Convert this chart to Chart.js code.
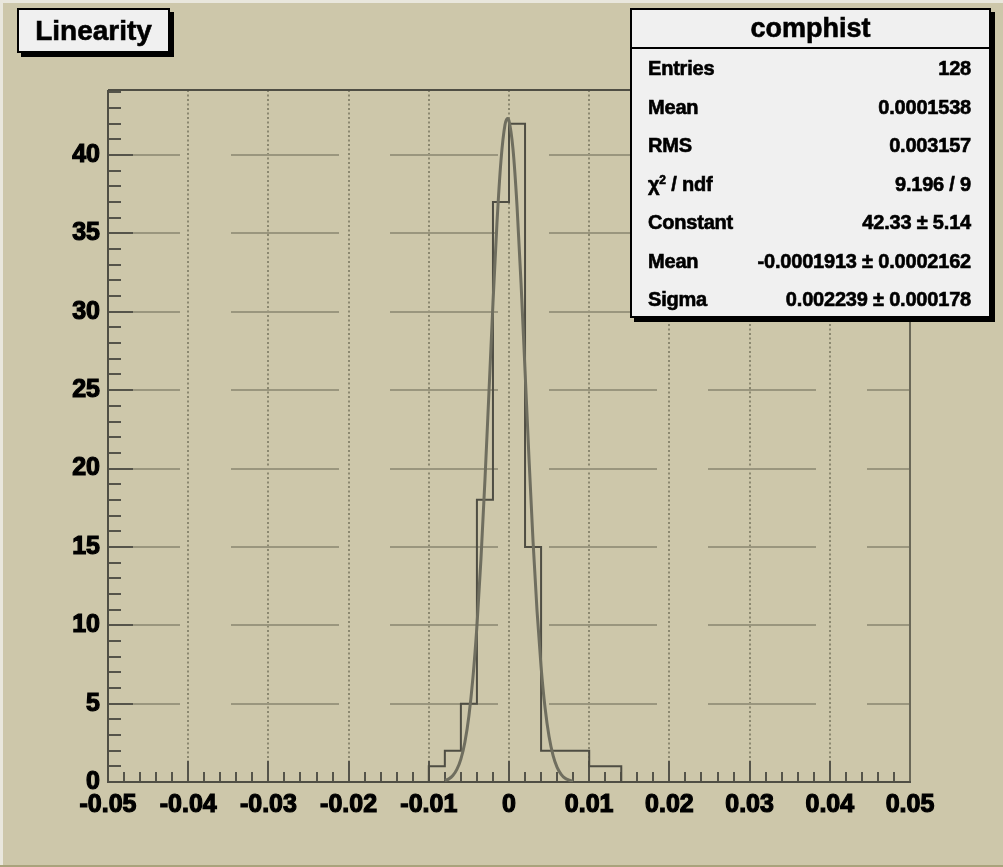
<!DOCTYPE html>
<html>
<head>
<meta charset="utf-8">
<script src="https://cdn.jsdelivr.net/npm/chart.js@4.4.1/dist/chart.umd.min.js"></script>
<style>
html,body{margin:0;padding:0;background:#cdc7aa;overflow:hidden;}
#wrap{position:relative;width:1003px;height:867px;background:#cdc7aa;}
#c{position:absolute;left:0;top:0;}
.edgeTop{position:absolute;left:0;top:0;width:1003px;height:3px;background:#e9e7dd;}
.edgeLeft{position:absolute;left:0;top:0;width:3px;height:867px;background:#e9e7dd;}
.edgeBottom{position:absolute;left:0;top:865px;width:1003px;height:2px;background:#a9a37c;}
.box{position:absolute;box-sizing:border-box;background:#f0f0f0;border:2px solid #000;box-shadow:4px 4px 0 #000;
     font-family:"Liberation Sans",Arial,sans-serif;font-weight:bold;color:#000;-webkit-text-stroke:0.6px #000;}
#title{left:17px;top:8px;width:153px;height:45px;font-size:28px;line-height:41px;text-align:center;}
#stats{left:630px;top:8px;width:361px;height:310px;}
#stats .head{box-sizing:border-box;height:39px;line-height:37px;text-align:center;font-size:27px;border-bottom:2px solid #000;}
#stats .row{display:flex;justify-content:space-between;height:38.5px;line-height:38.5px;font-size:20px;padding:0 18px 0 16px;letter-spacing:-0.2px;}
#stats sup{font-size:12px;line-height:0;vertical-align:7px;}
</style>
</head>
<body>
<div id="wrap">
  <canvas id="c" width="1003" height="867"></canvas>
  <div class="edgeTop"></div><div class="edgeLeft"></div><div class="edgeBottom"></div>
  <div class="box" id="title"></div>
  <div class="box" id="stats"></div>
</div>
<script>
// ---------- data ----------
const histTitle = 'Linearity';
const statsTitle = 'comphist';
const statsLabels = ['Entries', 'Mean', 'RMS', 'χ<sup>2</sup> / ndf', 'Constant', 'Mean', 'Sigma'];
const statsValues = ['128', '0.0001538', '0.003157', '9.196 / 9', '42.33 ± 5.14', '-0.0001913 ± 0.0002162', '0.002239 ± 0.000178'];

const binLowEdges = [-0.010, -0.008, -0.006, -0.004, -0.002, 0.000, 0.002, 0.004, 0.006, 0.008, 0.010, 0.012];
const binCounts   = [1, 2, 5, 18, 37, 42, 15, 2, 2, 2, 1, 1];
const binWidth = 0.002;

const fitX = [-0.008, -0.0075, -0.007, -0.0065, -0.006, -0.0055, -0.005, -0.0045, -0.004, -0.0035,
              -0.003, -0.0025, -0.002, -0.0015, -0.001, -0.0005, -0.0002, 0.0, 0.0005, 0.001,
              0.0015, 0.002, 0.0025, 0.003, 0.0035, 0.004, 0.0045, 0.005, 0.0055, 0.006,
              0.0065, 0.007, 0.0075, 0.008];
const fitY = [0.10, 0.20, 0.41, 0.80, 1.46, 2.54, 4.21, 6.64, 9.95, 14.19,
              19.26, 24.86, 30.53, 35.67, 39.65, 41.93, 42.33, 42.18, 40.37, 36.76,
              31.84, 26.24, 20.57, 15.34, 10.89, 7.35, 4.72, 2.88, 1.68, 0.93,
              0.49, 0.24, 0.12, 0.05];

const xTickLabels = ['-0.05', '-0.04', '-0.03', '-0.02', '-0.01', '0', '0.01', '0.02', '0.03', '0.04', '0.05'];
const yTickLabels = ['0', '5', '10', '15', '20', '25', '30', '35', '40'];
const xRange = [-0.05, 0.05];
const yRange = [0, 44.15];
const xMajorStep = 0.01, xMinorStep = 0.002;
const yMajorStep = 5, yMinorStep = 1;

// ---------- overlays (real text) ----------
document.getElementById('title').textContent = histTitle;
const st = document.getElementById('stats');
let html = '<div class="head">' + statsTitle + '</div>';
for (let i = 0; i < statsLabels.length; i++) {
  html += '<div class="row"><span>' + statsLabels[i] + '</span><span>' + statsValues[i] + '</span></div>';
}
st.innerHTML = html;

// ---------- histogram outline points built from bins ----------
const histPts = [{x: binLowEdges[0], y: 0}];
for (let i = 0; i < binCounts.length; i++) {
  histPts.push({x: binLowEdges[i], y: binCounts[i]});
  histPts.push({x: binLowEdges[i] + binWidth, y: binCounts[i]});
}
histPts.push({x: binLowEdges[binLowEdges.length - 1] + binWidth, y: 0});
const fitPts = fitX.map((v, i) => ({x: v, y: fitY[i]}));

// ---------- ROOT-like frame, grid and inside ticks ----------
const rootFrame = {
  id: 'rootFrame',
  beforeDatasetsDraw(chart) {
    const {ctx, chartArea: a, scales: {x, y}} = chart;
    const line = (x1, y1, x2, y2) => { ctx.beginPath(); ctx.moveTo(x1, y1); ctx.lineTo(x2, y2); ctx.stroke(); };
    ctx.save();
    // vertical dotted grid
    ctx.strokeStyle = '#8b8870'; ctx.lineWidth = 2; ctx.setLineDash([2, 2.5]);
    x.ticks.forEach(t => {
      const px = Math.round(x.getPixelForValue(t.value));
      if (px <= a.left + 2 || px >= a.right - 2) return;
      line(px, a.top, px, a.bottom);
    });
    // horizontal dashed grid
    ctx.strokeStyle = '#9a967e'; ctx.lineWidth = 2; ctx.setLineDash([108, 51]); ctx.lineDashOffset = 36;
    y.ticks.forEach(t => {
      if (t.value <= yRange[0]) return;
      const py = Math.round(y.getPixelForValue(t.value));
      line(a.left, py, a.right, py);
    });
    ctx.setLineDash([]); ctx.lineDashOffset = 0;
    // ticks
    ctx.strokeStyle = '#55544a'; ctx.lineWidth = 2;
    const nx = Math.round((xRange[1] - xRange[0]) / xMinorStep);
    const perX = Math.round(xMajorStep / xMinorStep);
    for (let i = 0; i <= nx; i++) {
      const px = Math.round(x.getPixelForValue(xRange[0] + i * xMinorStep));
      const len = (i % perX === 0) ? 21 : 10;
      line(px, a.bottom, px, a.bottom - len);
    }
    const ny = Math.floor((yRange[1] - yRange[0]) / yMinorStep + 1e-9);
    const perY = Math.round(yMajorStep / yMinorStep);
    for (let i = 0; i <= ny; i++) {
      const py = Math.round(y.getPixelForValue(yRange[0] + i * yMinorStep));
      const len = (i % perY === 0) ? 25 : 13;
      line(a.left, py, a.left + len, py);
    }
    // frame
    ctx.strokeStyle = '#6a6858'; ctx.lineWidth = 2;
    line(a.right, a.top, a.right, a.bottom);
    ctx.strokeStyle = '#4f4e44';
    line(a.left, a.top, a.right, a.top);
    line(a.left, a.top, a.left, a.bottom + 1);
    line(a.left - 1, a.bottom, a.right + 1, a.bottom);
    ctx.restore();
  }
};

const labelFont = {family: '"Liberation Sans", Arial, sans-serif', size: 25, weight: 'bold'};

new Chart(document.getElementById('c'), {
  type: 'scatter',
  data: {
    datasets: [
      {
        label: 'fit', data: fitPts, showLine: true, borderColor: '#6f6e5f', borderWidth: 3,
        pointRadius: 0, cubicInterpolationMode: 'monotone', order: 0
      },
      {
        label: 'comphist', data: histPts, showLine: true, borderColor: '#4e4d43', borderWidth: 2,
        pointRadius: 0, tension: 0, order: 1
      }
    ]
  },
  options: {
    responsive: false, animation: false, devicePixelRatio: 1,
    layout: {padding: {left: 0, top: 90, right: 93, bottom: 0}},
    plugins: {legend: {display: false}, tooltip: {enabled: false}, title: {display: false}},
    scales: {
      x: {
        type: 'linear', min: xRange[0], max: xRange[1],
        grid: {display: false}, border: {display: false},
        ticks: {
          stepSize: xMajorStep, includeBounds: false, autoSkip: false, maxRotation: 0,
          font: labelFont, color: '#000', padding: 0, textStrokeColor: '#000', textStrokeWidth: 1.2,
          callback: (v, i) => xTickLabels[i]
        },
        afterFit: s => { s.height = 85; }
      },
      y: {
        type: 'linear', min: yRange[0], max: yRange[1],
        grid: {display: false}, border: {display: false},
        ticks: {
          stepSize: yMajorStep, includeBounds: false, autoSkip: false,
          font: labelFont, color: '#000', padding: 0, textStrokeColor: '#000', textStrokeWidth: 1.2,
          callback: (v, i) => yTickLabels[i]
        },
        afterFit: s => { s.width = 108; }
      }
    }
  },
  plugins: [rootFrame]
});
</script>
</body>
</html>
